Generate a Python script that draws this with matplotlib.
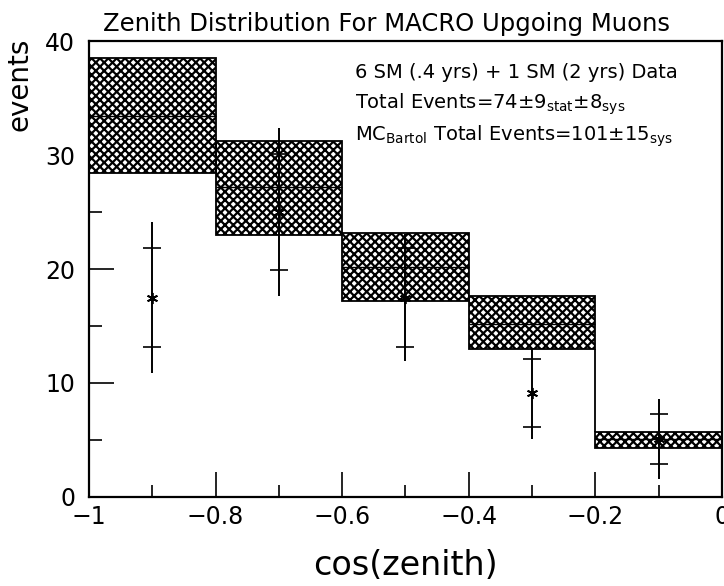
import matplotlib.pyplot as plt
import numpy as np

plt.rcParams['font.family'] = ['DejaVu Sans']
plt.rcParams['mathtext.fontset'] = 'dejavusans'
plt.rcParams['hatch.linewidth'] = 1.6

# MC (Bartol) expectation per bin: low edge of band, central value, high edge
bin_edges = [-1.0, -0.8, -0.6, -0.4, -0.2, 0.0]
mc_low = [28.4, 23.0, 17.2, 13.0, 4.3]
mc_mid = [33.4, 27.2, 20.2, 15.2, 5.1]
mc_high = [38.5, 31.2, 23.2, 17.6, 5.7]

# data points
data_x = [-0.9, -0.7, -0.5, -0.3, -0.1]
data_y = [17.5, 25.0, 17.5, 9.1, 5.1]
data_stat = [4.3, 5.1, 4.3, 3.0, 2.2]
data_tot = [6.6, 7.4, 5.6, 4.0, 3.5]

fig = plt.figure(figsize=(7.24, 5.86), dpi=100)
ax = fig.add_axes([0.1229, 0.1519, 0.8743, 0.7781])

edges = np.array(bin_edges)
centers = (edges[:-1] + edges[1:]) / 2
widths = np.diff(edges)
lo = np.array(mc_low)
hi = np.array(mc_high)

ax.bar(centers, hi - lo, width=widths, bottom=lo, facecolor='white',
       edgecolor='black', hatch='xxxx', linewidth=1.3, zorder=2)
ax.hlines(mc_mid, edges[:-1], edges[1:], color='black', linewidth=1.0, zorder=3)
# connect the band edges as a step outline
for i in range(len(centers) - 1):
    ax.vlines(edges[i + 1], min(lo[i], hi[i + 1]), max(lo[i], hi[i + 1]),
              color='black', linewidth=1.3, zorder=3)
ax.vlines(edges[-1], 0, hi[-1], color='black', linewidth=1.3, zorder=3)

# data: total error as line, stat error as small ticks
ax.errorbar(data_x, data_y, yerr=data_tot, fmt='none', ecolor='black',
            elinewidth=1.4, capsize=0, zorder=4)
y = np.array(data_y)
s = np.array(data_stat)
ax.plot(data_x, y + s, linestyle='none', marker='_', markersize=13,
        markeredgewidth=1.2, color='black', zorder=4)
ax.plot(data_x, y - s, linestyle='none', marker='_', markersize=13,
        markeredgewidth=1.2, color='black', zorder=4)
ax.plot(data_x, data_y, linestyle='none', marker=(6, 2, 0), markersize=8,
        markeredgewidth=1.3, color='black', zorder=5)

ax.set_xlim(-1, 0)
ax.set_ylim(0, 40)
ax.set_xticks([-1, -0.8, -0.6, -0.4, -0.2, 0])
ax.set_xticklabels(['\u22121', '\u22120.8', '\u22120.6', '\u22120.4', '\u22120.2', '0'])
ax.set_xticks(np.arange(-0.9, 0, 0.2), minor=True)
ax.set_yticks([0, 10, 20, 30, 40])
ax.set_yticks([5, 15, 25, 35], minor=True)
ax.tick_params(which='major', direction='in', length=18, width=1.2,
               labelsize=17)
ax.tick_params(axis='x', which='major', pad=6)
ax.tick_params(axis='y', which='major', pad=10)
ax.tick_params(which='minor', direction='in', length=9, width=1.2)
for sp in ax.spines.values():
    sp.set_linewidth(1.6)

ax.set_xlabel('cos(zenith)', fontsize=24, labelpad=14)
ax.set_ylabel('events', fontsize=20)
ax.yaxis.set_label_coords(-0.088, 0.905)
ax.set_title('Zenith Distribution For MACRO Upgoing Muons', fontsize=17.5,
             pad=7, x=0.47)

tx = 0.42
ax.text(tx, 0.93, '6 SM (.4 yrs) + 1 SM (2 yrs) Data', transform=ax.transAxes,
        fontsize=14, va='center')
ax.text(tx, 0.862, r'Total Events=74$\pm$9$_{\rm stat}$$\pm$8$_{\rm sys}$',
        transform=ax.transAxes, fontsize=14, va='center')
ax.text(tx, 0.792, r'MC$_{\rm Bartol}$ Total Events=101$\pm$15$_{\rm sys}$',
        transform=ax.transAxes, fontsize=14, va='center')

fig.savefig('out.png', dpi=100)
